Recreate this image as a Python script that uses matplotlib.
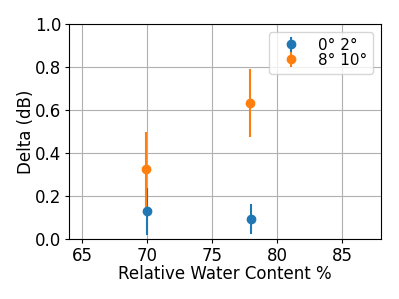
import matplotlib
matplotlib.use("Agg")
import matplotlib.pyplot as plt

plt.rcParams['font.size'] = 12

# relative water content (%) and delta (dB) per angle group
rwc_a = [70.0, 78.0]
delta_a = [0.13, 0.095]
err_a = [0.11, 0.07]

rwc_b = [69.9, 77.9]
delta_b = [0.325, 0.632]
err_b = [0.175, 0.157]

fig, ax = plt.subplots(figsize=(3.99, 2.99), dpi=100)
ax.errorbar(rwc_a, delta_a, yerr=err_a, fmt='o', label='0° 2°')
ax.errorbar(rwc_b, delta_b, yerr=err_b, fmt='o', label='8° 10°')
ax.set_xlim(64, 88)
ax.set_ylim(0, 1)
ax.set_xlabel('Relative Water Content %', labelpad=0)
ax.set_ylabel('Delta (dB)', labelpad=0)
ax.tick_params(length=3, pad=2.5)
ax.grid(True)
ax.legend(loc='upper right', fontsize=11, labelspacing=0)
fig.subplots_adjust(left=0.173, right=0.955, bottom=0.2, top=0.92)
fig.savefig('out.png')
